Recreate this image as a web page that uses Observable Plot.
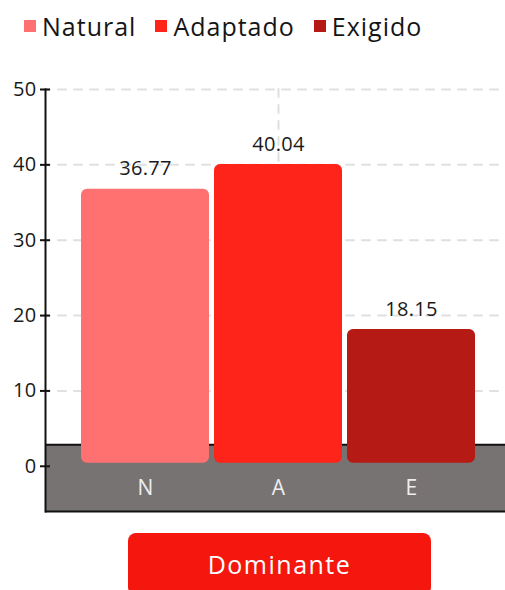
<!DOCTYPE html>
<html><head><meta charset="utf-8">
<script src="https://cdn.jsdelivr.net/npm/d3@7"></script>
<script src="https://cdn.jsdelivr.net/npm/@observablehq/plot@0.6"></script>
<style>
html,body{margin:0;padding:0;background:#fff;}
body{width:505px;height:590px;overflow:hidden;font-family:"Open Sans","Noto Sans",sans-serif;}
#legend{height:55px;display:flex;align-items:flex-start;padding-left:24px;padding-top:9px;box-sizing:border-box;gap:19px;}
.item{display:flex;align-items:center;font-size:25px;color:#151515;letter-spacing:1px;line-height:34px;}
.sw{width:12px;height:12px;margin-right:6px;}
#chart svg{display:block;}
#btn{margin:21px 0 0 128px;width:303px;height:62px;background:#f5170e;border-radius:8px;color:#fff;font-size:25px;letter-spacing:1.5px;display:flex;align-items:center;justify-content:center;box-sizing:border-box;padding-bottom:0px;}
</style></head><body>
<div id="legend"></div>
<div id="chart"></div>
<div id="btn"></div>
<script>
const categories = ["N", "A", "E"];
const seriesNames = ["Natural", "Adaptado", "Exigido"];
const values = [36.77, 40.04, 18.15];
const colors = ["#ff7171", "#ff2419", "#b51a14"];
const yTicks = [0, 10, 20, 30, 40, 50];
const buttonLabel = "Dominante";

const data = categories.map((c, i) => ({cat: c, name: seriesNames[i], value: values[i]}));

// legend
const legend = document.getElementById("legend");
seriesNames.forEach((n, i) => {
  const it = document.createElement("div");
  it.className = "item";
  const sw = document.createElement("span");
  sw.className = "sw";
  sw.style.background = colors[i];
  it.appendChild(sw);
  it.appendChild(document.createTextNode(n));
  legend.appendChild(it);
});
document.getElementById("btn").textContent = buttonLabel;

const yMin = -6, yMax = 50, bandTop = 2.85;

const plot = Plot.plot({
  width: 505,
  height: 457,
  marginTop: 34,
  marginBottom: 1,
  marginLeft: 45,
  marginRight: 0,
  style: {fontFamily: "'Open Sans','Noto Sans',sans-serif", fontSize: "19px", color: "#222", background: "transparent", overflow: "visible", letterSpacing: "0.3px"},
  x: {domain: categories, paddingInner: 0.034, paddingOuter: 0.24, align: 0.55, axis: null},
  y: {domain: [yMin, yMax], axis: null},
  color: {domain: categories, range: colors},
  marks: [
    Plot.gridY(yTicks.filter(d => d > 0), {stroke: "#e0e0e0", strokeOpacity: 1, strokeWidth: 2, strokeDasharray: "8,8", strokeDashoffset: -13, strokeLinecap: "round"}),
    Plot.gridX([categories[1]], {stroke: "#e0e0e0", strokeOpacity: 1, strokeWidth: 2, strokeDasharray: "8,8", strokeLinecap: "round"}),
    Plot.rect([0], {y1: yMin, y2: bandTop, fill: "#777372"}),
    Plot.ruleY([bandTop, yMin], {stroke: "#111", strokeWidth: 2}),
    Plot.barY(data, {x: "cat", y: "value", fill: "cat", rx: 6, insetBottom: 3}),
    Plot.text(data, {x: "cat", y: "value", text: d => d.value.toFixed(2), dy: -14, lineAnchor: "bottom", fill: "#1a1a1a", fontSize: 20}),
    Plot.text(data, {x: "cat", frameAnchor: "bottom", text: "cat", dy: -23, lineAnchor: "middle", fill: "#eeeeee", fontSize: 21}),
    Plot.frame({anchor: "left", stroke: "#111", strokeWidth: 2}),
    Plot.axisY(yTicks, {tickSize: 5, tickPadding: 4, strokeWidth: 2, stroke: "#111", fill: "#1a1a1a", fontSize: 20, label: null}),
    Plot.axisY(yTicks, {tickSize: 5, text: null, dx: 5, strokeWidth: 2, stroke: "#111", label: null})
  ]
});
document.getElementById("chart").appendChild(plot);
</script>
</body></html>
